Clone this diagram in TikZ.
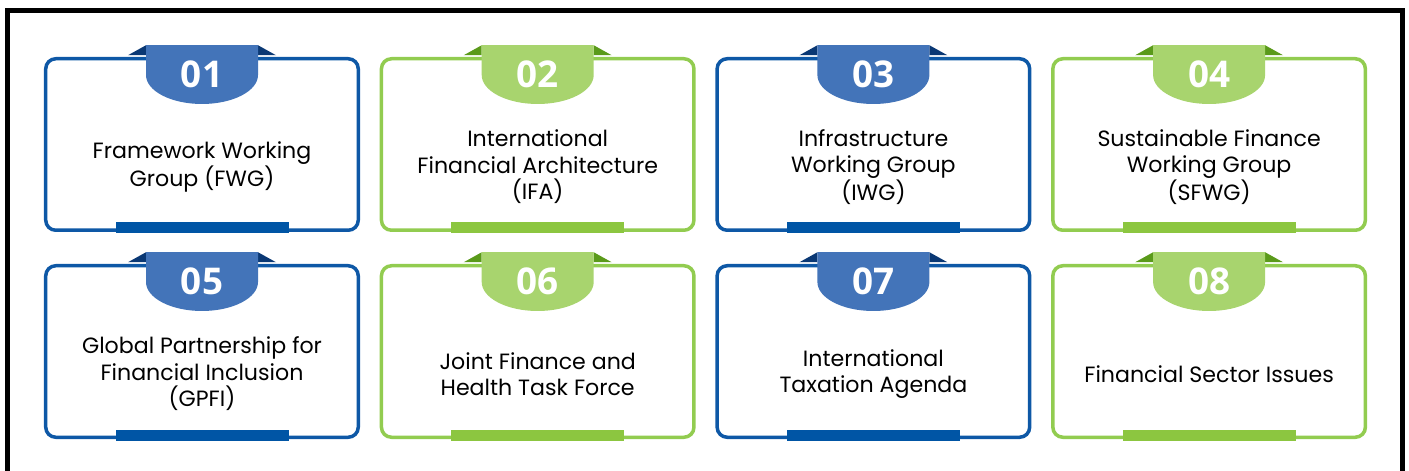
\documentclass[tikz,border=0pt]{standalone}
\usepackage{fontspec}
\setmainfont{Poppins}
\newfontfamily\numfont{Open Sans}

\definecolor{blueline}{RGB}{14,88,166}
\definecolor{bluetab}{RGB}{67,116,185}
\definecolor{bluefold}{RGB}{10,56,116}
\definecolor{bluebar}{RGB}{0,85,165}
\definecolor{greenline}{RGB}{146,204,80}
\definecolor{greentab}{RGB}{168,212,110}
\definecolor{greenfold}{RGB}{90,154,26}
\definecolor{greenbar}{RGB}{140,198,64}

\tikzset{
  card/.style={draw=#1line, fill=white, line width=3.5bp, rounded corners=10bp,
    minimum width=312.5bp, minimum height=171.5bp, inner sep=0pt},
  tabnum/.style={font=\numfont\bfseries\fontsize{37}{37}\selectfont, text=white, anchor=base, inner sep=0pt},
  cardtext/.style={font=\fontsize{22.2}{26.5}\selectfont, align=center, inner sep=0pt}
}

\begin{document}
\begin{tikzpicture}[x=1bp,y=-1bp]
  \useasboundingbox (0,0) rectangle (1409,471);
  % outer frame
  \draw[line width=5bp] (7,10.5) rectangle (1402.5,500);
  % cards
  \foreach \i/\c/\r/\k/\lbl in {
      1/0/0/blue/{Framework Working\\Group (FWG)},
      2/1/0/green/{International\\Financial Architecture\\(IFA)},
      3/2/0/blue/{Infrastructure\\Working Group\\(IWG)},
      4/3/0/green/{Sustainable Finance\\Working Group\\(SFWG)},
      5/0/1/blue/{Global Partnership for\\Financial Inclusion\\(GPFI)},
      6/1/1/green/{Joint Finance and\\Health Task Force},
      7/2/1/blue/{International\\Taxation Agenda},
      8/3/1/green/{Financial Sector Issues}} {
    \pgfmathsetmacro{\cx}{202+335.7*\c}
    \pgfmathsetmacro{\cy}{144.5+207*\r}
    \node[card=\k] (card\i) at (\cx,\cy) {};
    % folds beside the tab
    \fill[\k fold] ([shift={(-56,-11.75)}]card\i.north) -- ([shift={(-74,-1.75)}]card\i.north)
      -- ([shift={(-56,-1.75)}]card\i.north) -- cycle;
    \fill[\k fold] ([shift={(56,-11.75)}]card\i.north) -- ([shift={(74,-1.75)}]card\i.north)
      -- ([shift={(56,-1.75)}]card\i.north) -- cycle;
    % tab
    \fill[\k tab] ([shift={(-56,-11.75)}]card\i.north) -- ([shift={(56,-11.75)}]card\i.north)
      -- ([shift={(56,18)}]card\i.north) arc[start angle=0, end angle=180, x radius=56, y radius=29] -- cycle;
    % bar at the bottom
    \fill[\k bar] ([shift={(-86.5,-9.5)}]card\i.south) rectangle ([shift={(86.5,1.5)}]card\i.south);
    \node[tabnum] (num\i) at ([shift={(0,30.75)}]card\i.north) {0\i};
    \node[cardtext] (txt\i) at ([shift={(0,22.5)}]card\i.center) {\lbl};
  }
\end{tikzpicture}
\end{document}
